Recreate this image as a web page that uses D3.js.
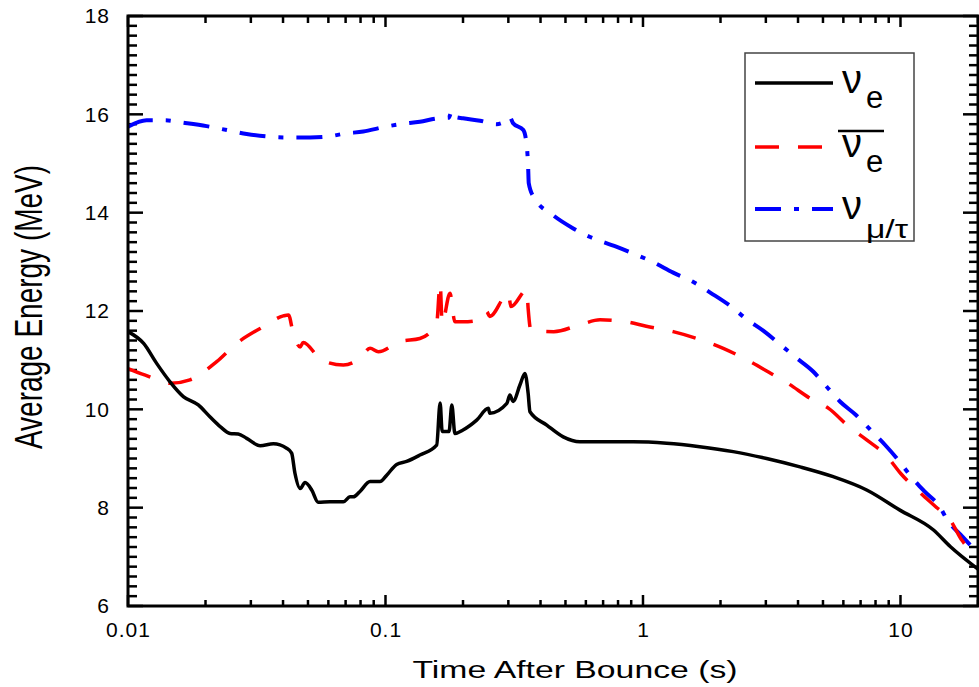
<!DOCTYPE html>
<html>
<head>
<meta charset="utf-8">
<script src="https://cdn.jsdelivr.net/npm/d3@7"></script>
<style>
  body { margin: 0; background: #fff; }
  svg { display: block; font-family: "Liberation Sans", Arial, sans-serif; }
</style>
</head>
<body>
<svg id="chart" width="979" height="687"></svg>
<script>
// [time after bounce (s), average energy (MeV)]
const nuE = [
  [0.01, 11.58], [0.0115, 11.34], [0.0129, 10.94], [0.01456, 10.56], [0.0164, 10.26],
  [0.01875, 10.09], [0.0208, 9.85], [0.0228, 9.65], [0.0249, 9.51], [0.0268, 9.50],
  [0.0289, 9.41], [0.0326, 9.26], [0.0367, 9.30], [0.0413, 9.21], [0.0432, 9.11],
  [0.0445, 8.70], [0.0466, 8.39], [0.0487, 8.51], [0.0517, 8.36], [0.0548, 8.11],
  [0.0609, 8.12], [0.0686, 8.12], [0.0728, 8.22], [0.075, 8.22], [0.0796, 8.33],
  [0.0871, 8.53], [0.0952, 8.53], [0.1011, 8.66], [0.1105, 8.88], [0.1208, 8.94],
  [0.136, 9.07], [0.158, 9.27], [0.163, 10.13], [0.166, 9.55], [0.1765, 9.55],
  [0.181, 10.09], [0.186, 9.51], [0.200, 9.58], [0.226, 9.78], [0.251, 10.02],
  [0.254, 9.92], [0.296, 10.12], [0.304, 10.29], [0.313, 10.16], [0.333, 10.50],
  [0.348, 10.73], [0.358, 10.33], [0.364, 9.95], [0.423, 9.68], [0.490, 9.44],
  [0.569, 9.34], [0.681, 9.34], [0.916, 9.34], [1.236, 9.31], [1.66, 9.24],
  [2.24, 9.14], [3.02, 9.00], [4.07, 8.83], [5.48, 8.63], [7.39, 8.36],
  [9.95, 7.95], [13.4, 7.55], [15.6, 7.21], [20, 6.75]
];
const nuEbar = [
  [0.01, 10.83], [0.0116, 10.70], [0.0146, 10.53], [0.0174, 10.60], [0.0221, 10.97],
  [0.0264, 11.34], [0.0335, 11.68], [0.0401, 11.90], [0.0420, 11.92], [0.0438, 11.55],
  [0.0466, 11.27], [0.0479, 11.36], [0.0565, 11.00], [0.0686, 10.90], [0.0796, 11.04],
  [0.0871, 11.24], [0.0938, 11.17], [0.1138, 11.38], [0.136, 11.44], [0.158, 11.75],
  [0.163, 12.56], [0.166, 11.75], [0.178, 12.36], [0.186, 11.78], [0.200, 11.78],
  [0.233, 11.82], [0.247, 11.99], [0.254, 11.89], [0.300, 12.36], [0.307, 12.09],
  [0.354, 12.43], [0.358, 12.06], [0.367, 11.61], [0.45, 11.58], [0.569, 11.72],
  [0.681, 11.82], [0.863, 11.78], [1.03, 11.69], [1.31, 11.58], [1.62, 11.44],
  [2.05, 11.24], [2.46, 11.04], [3.14, 10.73], [3.65, 10.53], [4.47, 10.22],
  [5.26, 10.02], [6.3, 9.65], [7.39, 9.38], [8.88, 9.04], [10.0, 8.70],
  [12.0, 8.29], [13.7, 8.02], [15.6, 7.75], [17.3, 7.34], [20, 7.00]
];
const nuMuTau = [
  [0.01, 15.75], [0.0118, 15.88], [0.0139, 15.88], [0.0164, 15.83], [0.0202, 15.76],
  [0.0242, 15.68], [0.0289, 15.60], [0.0345, 15.55], [0.0413, 15.53], [0.0509, 15.53],
  [0.06, 15.55], [0.0697, 15.61], [0.082, 15.65], [0.098, 15.74], [0.114, 15.80],
  [0.136, 15.85], [0.16, 15.92], [0.176, 15.93], [0.181, 16.07], [0.186, 15.95],
  [0.2, 15.92], [0.233, 15.87], [0.27, 15.80], [0.285, 15.83], [0.304, 15.94],
  [0.313, 15.82], [0.343, 15.68], [0.354, 15.34], [0.358, 14.94], [0.36, 14.60],
  [0.376, 14.32], [0.447, 13.95], [0.536, 13.68], [0.62, 13.51], [0.787, 13.31],
  [0.916, 13.17], [1.09, 13.00], [1.31, 12.78], [1.58, 12.58], [1.83, 12.37],
  [2.2, 12.09], [2.53, 11.83], [2.93, 11.60], [3.5, 11.27], [3.89, 11.07],
  [4.58, 10.77], [5.17, 10.46], [5.82, 10.16], [6.7, 9.89], [7.75, 9.55],
  [8.7, 9.28], [9.8, 8.97], [11.0, 8.63], [12.4, 8.33], [14.2, 8.02],
  [15.2, 7.75], [17.4, 7.41], [20, 7.07]
];

const xMajor = [0.01, 0.1, 1, 10];
const xMajorLabels = ['0.01', '0.1', '1', '10'];
const yMajor = [6, 8, 10, 12, 14, 16, 18];

const mLeft = 128, mRight = 978, mTop = 16, mBottom = 606;

const svg = d3.select('#chart');
const x = d3.scaleLog().domain([0.01, 20]).range([mLeft, mRight]);
const y = d3.scaleLinear().domain([6, 18]).range([mBottom, mTop]);

// minor ticks
const xMinor = [];
for (const dec of [0.01, 0.1, 1, 10]) {
  for (let k = 2; k <= 9; k++) {
    const v = dec * k;
    if (v <= 20) xMinor.push(v);
  }
}
const yMinor = d3.range(6, 18.001, 0.2).map(v => +v.toFixed(1)).filter(v => !yMajor.includes(v));

// tick labels (axis used for text only)
function styleLabels(g) {
  g.select('.domain').remove();
  g.selectAll('.tick line').remove();
  g.selectAll('.tick text')
    .attr('fill', '#000')
    .style('font-size', '21px')
    .style('letter-spacing', '1px');
}
svg.append('g').attr('transform', `translate(${mLeft},0)`)
  .call(d3.axisLeft(y).tickValues(yMajor).tickSize(0).tickPadding(18).tickFormat(d3.format('d')))
  .call(styleLabels);
svg.append('g').attr('transform', `translate(0,${mBottom})`)
  .call(d3.axisBottom(x).tickValues(xMajor).tickSize(0).tickPadding(16)
    .tickFormat((d, i) => xMajorLabels[i]))
  .call(styleLabels);

// tick marks, all pointing inward
const ticks = svg.append('g').attr('stroke', '#000').attr('stroke-width', 2.5);
function yTicks(values, len) {
  ticks.append('g').selectAll('line').data(values).enter().append('line')
    .attr('x1', mLeft).attr('x2', mLeft + len)
    .attr('y1', d => y(d)).attr('y2', d => y(d));
  ticks.append('g').selectAll('line').data(values).enter().append('line')
    .attr('x1', mRight).attr('x2', mRight - len)
    .attr('y1', d => y(d)).attr('y2', d => y(d));
}
function xTicks(values, lenBottom, lenTop) {
  ticks.append('g').selectAll('line').data(values).enter().append('line')
    .attr('x1', d => x(d)).attr('x2', d => x(d))
    .attr('y1', mBottom).attr('y2', mBottom - lenBottom);
  ticks.append('g').selectAll('line').data(values).enter().append('line')
    .attr('x1', d => x(d)).attr('x2', d => x(d))
    .attr('y1', mTop).attr('y2', mTop + lenTop);
}
yTicks(yMajor, 15);
yTicks(yMinor, 9);
xTicks(xMajor, 11, 11);
xTicks(xMinor, 6, 7);

// curves
svg.append('clipPath').attr('id', 'clip')
  .append('rect').attr('x', mLeft).attr('y', mTop).attr('width', mRight - mLeft).attr('height', mBottom - mTop);

const line = d3.line().x(d => x(d[0])).y(d => y(d[1])).curve(d3.curveMonotoneX);

const series = [
  { data: nuMuTau, color: '#0000ff', dash: '26,13,5,13', width: 4 },
  { data: nuEbar, color: '#ff0000', dash: '24,19', width: 3.5 },
  { data: nuE, color: '#000', dash: null, width: 3.5 }
];

svg.append('g').attr('clip-path', 'url(#clip)')
  .selectAll('path')
  .data(series)
  .enter()
  .append('path')
  .attr('d', s => line(s.data))
  .attr('fill', 'none')
  .attr('stroke', s => s.color)
  .attr('stroke-width', s => s.width)
  .attr('stroke-dasharray', s => s.dash)
  .attr('stroke-linejoin', 'round');

// frame
svg.append('rect')
  .attr('x', mLeft).attr('y', mTop)
  .attr('width', mRight - mLeft).attr('height', mBottom - mTop)
  .attr('fill', 'none').attr('stroke', '#000').attr('stroke-width', 3);

// axis titles
svg.append('text')
  .attr('x', 575).attr('y', 678)
  .attr('text-anchor', 'middle')
  .attr('textLength', 325).attr('lengthAdjust', 'spacingAndGlyphs')
  .style('font-size', '23px')
  .text('Time After Bounce (s)');

svg.append('text')
  .attr('transform', 'translate(42,307) rotate(-90) scale(1,1.4)')
  .attr('text-anchor', 'middle')
  .style('font-size', '28px')
  .text('Average Energy (MeV)');

// legend
const legend = svg.append('g');
legend.append('rect')
  .attr('x', 745).attr('y', 53).attr('width', 169).attr('height', 188)
  .attr('fill', '#fff').attr('stroke', '#444').attr('stroke-width', 1.5);

const legendRows = [
  { y: 83, color: '#000', dash: null, width: 3.5, sub: 'e', bar: false },
  { y: 147, color: '#ff0000', dash: '24,19', width: 3.5, sub: 'e', bar: true },
  { y: 209, color: '#0000ff', dash: '26,13,5,13', width: 4, sub: 'μ/τ', bar: false }
];
legendRows.forEach(r => {
  legend.append('line')
    .attr('x1', 755).attr('x2', 833).attr('y1', r.y).attr('y2', r.y)
    .attr('stroke', r.color).attr('stroke-width', r.width)
    .attr('stroke-dasharray', r.dash);
  legend.append('text')
    .attr('x', 842).attr('y', r.y + 10)
    .style('font-size', '40px')
    .text('ν');
  const sub = legend.append('text')
    .attr('x', 866).attr('y', r.y + (r.sub === 'e' ? 25 : 29))
    .style('font-size', r.sub === 'e' ? '31px' : '25px')
    .text(r.sub);
  if (r.sub !== 'e') sub.attr('textLength', 42).attr('lengthAdjust', 'spacingAndGlyphs');
  if (r.bar) {
    legend.append('line')
      .attr('x1', 838).attr('x2', 884).attr('y1', r.y - 16).attr('y2', r.y - 16)
      .attr('stroke', '#000').attr('stroke-width', 2.5);
  }
});
</script>
</body>
</html>
